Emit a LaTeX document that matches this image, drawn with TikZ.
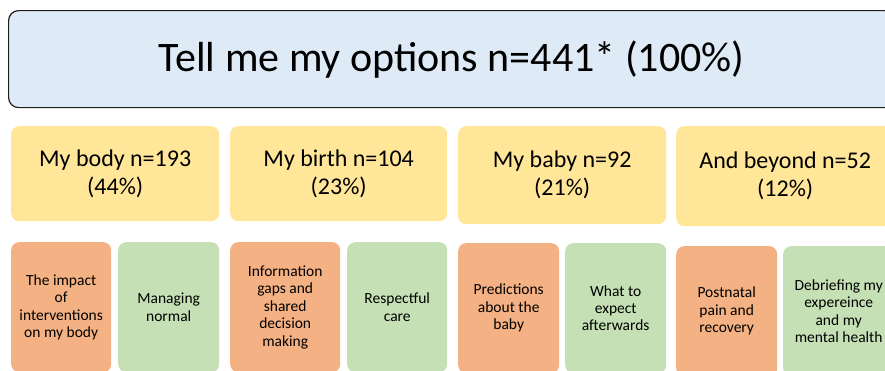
\documentclass[tikz,border=0pt]{standalone}
\usepackage{fontspec}
\setmainfont{Carlito}
\definecolor{topblue}{RGB}{222,235,247}
\definecolor{catyellow}{RGB}{255,230,153}
\definecolor{suborange}{RGB}{244,177,131}
\definecolor{subgreen}{RGB}{197,224,180}
\definecolor{bordergray}{RGB}{30,30,30}
\begin{document}
\begin{tikzpicture}[x=1pt,y=-1pt,
  box/.style={rectangle, rounded corners=8pt, inner sep=0pt, align=center, anchor=north west},
  titlebox/.style={box, draw=bordergray, line width=1.2pt, fill=topblue, rounded corners=10pt,
     font=\fontsize{42}{50}\selectfont},
  catbox/.style={box, fill=catyellow, font=\fontsize{24}{28}\selectfont},
  subbox/.style={box, font=\fontsize{15.5}{17.4}\selectfont, minimum height=130pt},
  negbox/.style={subbox, fill=suborange},
  posbox/.style={subbox, fill=subgreen}]
\useasboundingbox (0,0) rectangle (885,370);
\clip (0,0) rectangle (885,370);
\node[titlebox, minimum width=886pt, minimum height=97pt] (title) at (8,10) {Tell me my options n=441* (100\%)};
% categories
\node[catbox, minimum width=208pt, minimum height=95pt] (body) at (11,126) {My body n=193\\(44\%)};
\node[catbox, minimum width=217pt, minimum height=95pt] (birth) at (230,126) {My birth n=104\\(23\%)};
\node[catbox, minimum width=208pt, minimum height=98pt] (baby) at (458,126) {My baby n=92\\(21\%)};
\node[catbox, minimum width=218pt, minimum height=100pt] (beyond) at (676,126) {And beyond n=52\\(12\%)};
% sub-themes
\node[negbox, minimum width=100pt] (impact) at (11,242) {The impact\\of\\interventions\\on my body};
\node[posbox, minimum width=101pt] (normal) at (118,242) {Managing\\normal};
\node[negbox, minimum width=110pt] (gaps) at (230,242) {Information\\gaps and\\shared\\decision\\making};
\node[posbox, minimum width=100pt] (care) at (347,242) {Respectful\\care};
\node[negbox, minimum width=101pt] (predict) at (458,243) {Predictions\\about the\\baby};
\node[posbox, minimum width=101pt] (expect) at (565,243) {What to\\expect\\afterwards};
\node[negbox, minimum width=101pt] (pain) at (676,246) {Postnatal\\pain and\\recovery};
\node[posbox, minimum width=111pt] (debrief) at (783,246) {Debriefing my\\expereince\\and my\\mental health};
\end{tikzpicture}
\end{document}
